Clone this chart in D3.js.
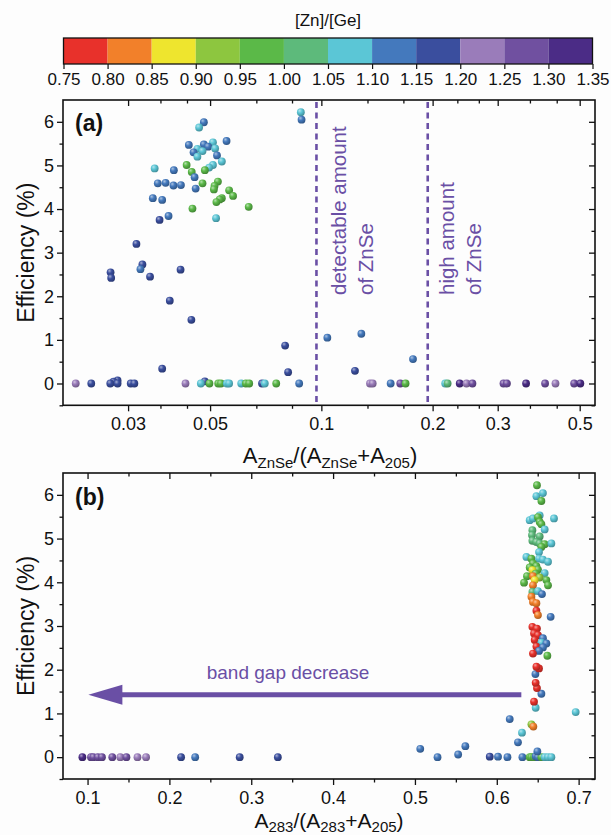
<!DOCTYPE html>
<html><head><meta charset="utf-8">
<script src="https://cdn.jsdelivr.net/npm/d3@7"></script>
<style>
body{margin:0;background:#fff;}
svg{display:block;font-family:Arial,"Liberation Sans",sans-serif;}
</style></head><body>
<svg id="chart" width="611" height="835"></svg>
<script>
// [Zn]/[Ge] colour bins
const ratioBins = [0.75,0.80,0.85,0.90,0.95,1.00,1.05,1.10,1.15,1.20,1.25,1.30,1.35];
const binColors = ["#e8312b","#f2802a","#eee52e","#8dc63f","#5bb948","#5dba7b","#5bc6d6","#4479bd","#3a4e9e","#9a7cba","#7050a0","#4b2c86"];

// Panel (a): A_ZnSe/(A_ZnSe+A_205), efficiency, [Zn]/[Ge]
const aX = [0.0481,0.0467,0.0438,0.0481,0.0509,0.0554,0.0494,0.0462,0.0477,0.0516,0.0451,0.0462,0.0522,0.0538,0.0509,0.0497,
  0.0432,0.0354,0.0399,0.0446,0.0484,0.0454,0.0361,0.0379,0.0398,0.0417,0.0477,0.0525,0.0514,0.0457,0.0512,0.0563,0.0577,
  0.0538,0.0531,0.0520,0.0350,0.0371,0.0448,0.0636,0.0519,0.0386,0.0365,0.0316,0.0328,0.0324,0.0416,0.0269,0.0270,0.0344,
  0.0389,0.0445,0.0880,0.0884,0.1038,0.1283,0.177,0.0798,0.0813,0.1233,0.0371,0.0281,0.0274,0.0484,
  0.02165,0.02385,0.02685,0.0281,0.0305,0.0312,0.0429,0.0472,0.0498,0.0526,0.0535,0.0555,0.0563,0.0607,0.0625,0.0638,
  0.0691,0.0703,0.0755,0.0871,0.1354,0.1377,0.154,0.1635,0.169,0.2163,0.2196,0.2368,0.247,0.2563,0.311,0.3177,0.358,
  0.403,0.43,0.483,0.502];
const aY = [5.99,5.87,5.47,5.48,5.53,5.56,5.43,5.38,5.33,5.39,5.30,5.20,5.23,5.09,5.01,4.95,
  5.01,4.93,4.89,4.85,4.89,4.73,4.59,4.60,4.54,4.55,4.59,4.63,4.53,4.47,4.45,4.43,4.30,
  4.25,4.22,4.16,4.25,4.21,4.01,4.05,3.79,3.84,3.75,3.20,2.73,2.62,2.61,2.55,2.42,2.45,
  1.90,1.46,6.22,6.05,1.05,1.14,0.56,0.87,0.26,0.29,0.34,0.07,0.04,0.05,
  0,0,0,0,0,0,0,0,0,0,0,0,0,0,0,0,
  0,0,0,0,0,0,0,0,0,0,0,0,0,0,0,0,0,
  0,0,0,0];
const aR = [1.12,1.07,1.12,1.12,1.07,1.12,1.12,1.07,1.07,1.07,1.12,1.07,1.12,1.07,1.07,1.07,
  0.97,1.07,1.12,0.97,0.97,1.12,1.12,1.12,1.12,1.12,0.97,0.97,0.97,1.12,0.97,0.97,0.97,
  0.97,0.97,0.97,1.12,1.12,0.97,0.97,1.07,1.12,1.17,1.17,1.17,1.12,1.17,1.17,1.17,1.17,
  1.17,1.17,1.07,1.12,1.12,1.12,1.12,1.17,1.17,1.17,1.17,1.17,1.17,1.17,
  1.22,1.17,1.17,1.17,1.17,1.17,1.22,1.07,0.97,0.97,0.97,1.07,1.07,1.07,0.97,0.97,
  1.17,1.07,0.97,1.12,1.22,1.22,1.12,1.27,0.97,1.07,1.02,1.32,1.22,1.27,1.27,1.27,1.32,
  1.27,1.22,1.27,1.32];

// Panel (b): A_283/(A_283+A_205), efficiency, [Zn]/[Ge]
const bX = [0.0937,0.1042,0.1071,0.1126,0.1176,0.1302,0.14,0.1475,0.161,0.1715,0.2143,0.2315,0.2859,0.3325,
  0.5065,0.5276,0.5528,0.5616,0.5914,0.6015,0.613,0.6313,0.6402,0.6423,0.6455,0.6475,0.6503,0.6545,0.6585,0.6626,0.6667,
  0.6496,0.6158,0.6259,0.6308,0.6423,0.6447,0.6475,0.6455,0.6964,0.6545,0.6491,0.6475,0.6472,0.6516,0.6484,
  0.6435,0.6491,0.6455,0.6503,0.6564,0.6463,0.6545,0.6606,0.6484,0.6564,0.6516,0.6442,0.6618,
  0.6491,0.6484,0.6564,0.6545,0.6524,0.6402,0.6442,0.6503,0.6699,0.6524,0.6545,0.6435,0.6585,0.6430,0.6524,0.6435,
  0.6484,0.6524,0.6585,0.6667,0.6545,0.6516,0.6362,0.6423,0.6516,0.6564,0.6626,0.6442,0.6484,0.6402,0.6503,0.6435,
  0.6585,0.6475,0.6369,0.6442,0.6524,0.6606,0.6463,0.6333,0.6626,0.6442,0.6435,0.6503,0.6552,0.6423,0.6442,0.6484,
  0.6484,0.6503,0.6658];
const bY = [0,0,0,0,0,0,0,0,0,0,0,0,0,0,
  0.19,0,0.06,0.25,0.01,0.01,0,0,0,0,0,0.02,0,0,0,0,0,
  0.13,0.87,0.34,0.56,0.75,0.70,1.13,1.27,1.03,1.45,1.58,1.70,1.90,2.03,2.07,
  2.98,2.94,2.83,2.79,2.72,2.68,2.62,2.60,2.53,2.51,2.43,2.37,2.32,
  6.22,5.97,6.04,5.86,5.53,5.42,5.46,5.49,5.46,5.38,5.33,5.19,5.21,5.08,5.05,4.95,
  4.92,4.89,4.87,4.89,4.81,4.69,4.58,4.54,4.54,4.52,4.47,4.43,4.37,4.34,4.29,4.28,
  4.21,4.20,4.14,4.14,4.11,4.05,4.05,3.99,3.93,3.93,3.78,3.80,3.73,3.67,3.55,3.52,
  3.35,3.25,3.21];
const bR = [1.32,1.27,1.27,1.27,1.27,1.27,1.22,1.27,1.22,1.22,1.17,1.12,1.17,1.17,
  1.12,1.12,1.12,1.12,1.17,1.12,1.12,1.12,0.97,0.97,0.97,1.12,1.12,0.97,1.07,1.07,1.07,
  1.12,1.12,1.12,1.07,0.92,0.82,1.07,0.77,1.07,1.12,0.77,0.77,1.12,0.77,0.77,
  0.77,0.77,0.77,0.77,1.12,0.77,1.07,1.12,0.77,1.12,1.12,0.77,0.97,
  0.97,1.07,1.07,0.97,1.07,1.07,1.07,0.97,1.07,0.97,0.97,1.02,1.07,1.02,1.02,1.02,
  1.02,1.02,0.97,1.07,0.97,1.07,1.07,0.97,1.07,1.07,1.07,0.97,0.97,0.97,0.97,0.87,
  1.07,0.97,0.97,0.82,0.92,0.97,0.87,0.97,0.97,0.82,1.02,1.07,1.12,0.82,0.82,0.82,
  0.77,0.82,1.12];

// Axis ticks
const effTicks = [0,1,2,3,4,5,6];
const effMinor = [-0.5,0.5,1.5,2.5,3.5,4.5,5.5];
const aXTicks = [0.03,0.05,0.1,0.2,0.3,0.5];
const aXMinor = [0.0367,0.0433,0.0667,0.0833,0.1333,0.1667,0.2333,0.2667,0.3667,0.4333];
const bXTicks = [0.1,0.2,0.3,0.4,0.5,0.6,0.7];
const bXMinor = [0.15,0.25,0.35,0.45,0.55,0.65];
const zoneLines = [0.097,0.194];
// band-gap arrow: from tail to tip along the A283 axis, at this efficiency level
const arrowFrom = 0.63, arrowTo = 0.101, arrowLevel = 1.43;

const svg = d3.select("#chart");
const W = 611, H = 835;
svg.append("rect").attr("width",W).attr("height",H).attr("fill","#fdfdfd");

const color = d3.scaleThreshold().domain(ratioBins.slice(1,-1)).range(binColors);

// sphere shading gradients
const defs = svg.append("defs");
binColors.forEach((c,i)=>{
  const g = defs.append("radialGradient").attr("id","ball"+i)
    .attr("cx","38%").attr("cy","35%").attr("r","65%").attr("fx","35%").attr("fy","30%");
  g.append("stop").attr("offset","0%").attr("stop-color",d3.interpolateRgb(c,"#ffffff")(0.55));
  g.append("stop").attr("offset","45%").attr("stop-color",c);
  g.append("stop").attr("offset","100%").attr("stop-color",d3.color(c).darker(0.9));
});
const ballFill = r => "url(#ball"+binColors.indexOf(color(r))+")";

const L = 63, R = 595;
const purple = "#6a4fa5";

// ---------- colour bar ----------
const cbTop = 38, cbH = 26;
const cbX = d3.scaleLinear().domain([0.75,1.35]).range([63.5,592.5]);
const cb = svg.append("g");
cb.selectAll("rect.bin").data(binColors).join("rect").attr("class","bin")
  .attr("x",(d,i)=>cbX(ratioBins[i])).attr("y",cbTop)
  .attr("width",(d,i)=>cbX(ratioBins[i+1])-cbX(ratioBins[i])).attr("height",cbH)
  .attr("fill",d=>d);
cb.append("rect").attr("x",cbX(0.75)).attr("y",cbTop).attr("width",cbX(1.35)-cbX(0.75)).attr("height",cbH)
  .attr("fill","none").attr("stroke","#111").attr("stroke-width",1.3);
const cbAxis = cb.append("g").attr("transform",`translate(0,${cbTop+cbH})`)
  .call(d3.axisBottom(cbX).tickValues(ratioBins).tickSize(5).tickPadding(4).tickFormat(d3.format(".2f")));
cbAxis.select(".domain").remove();
cbAxis.selectAll("line").attr("stroke","#111").attr("stroke-width",1.2);
cbAxis.selectAll("text").attr("font-size",17).attr("fill","#111").attr("font-family","Arial,'Liberation Sans',sans-serif");
cb.append("text").attr("x",cbX(1.05)).attr("y",26).attr("text-anchor","middle")
  .attr("font-size",17).attr("fill","#111").text("[Zn]/[Ge]");

// ---------- panel helper ----------
function panel(top, bottom, x, xTicks, xMinor, xFmt) {
  const y = d3.scaleLinear().domain([-0.5,6.5]).range([bottom,top]);
  const g = svg.append("g");
  const style = sel => {
    sel.select(".domain").remove();
    sel.selectAll("line").attr("stroke","#111").attr("stroke-width",1.3);
    sel.selectAll("text").attr("font-size",18).attr("fill","#111").attr("font-family","Arial,'Liberation Sans',sans-serif");
  };
  g.append("g").attr("transform",`translate(${L},0)`)
    .call(d3.axisLeft(y).tickValues(effTicks).tickSize(6).tickPadding(3).tickFormat(d3.format("d"))).call(style);
  g.append("g").attr("transform",`translate(${L},0)`)
    .call(d3.axisLeft(y).tickValues(effMinor).tickSize(3.5).tickFormat("")).call(style);
  g.append("g").attr("transform",`translate(${R},0)`)
    .call(d3.axisRight(y).tickValues(effTicks).tickSize(-6).tickFormat("")).call(style);
  g.append("g").attr("transform",`translate(${R},0)`)
    .call(d3.axisRight(y).tickValues(effMinor).tickSize(-3.5).tickFormat("")).call(style);
  g.append("g").attr("transform",`translate(0,${bottom})`)
    .call(d3.axisBottom(x).tickValues(xTicks).tickSize(6).tickPadding(6).tickFormat(xFmt)).call(style);
  g.append("g").attr("transform",`translate(0,${bottom})`)
    .call(d3.axisBottom(x).tickValues(xMinor).tickSize(3.5).tickFormat("")).call(style);
  g.append("g").attr("transform",`translate(0,${top})`)
    .call(d3.axisTop(x).tickValues(xTicks).tickSize(-6).tickFormat("")).call(style);
  g.append("g").attr("transform",`translate(0,${top})`)
    .call(d3.axisTop(x).tickValues(xMinor).tickSize(-3.5).tickFormat("")).call(style);
  g.append("rect").attr("x",L).attr("y",top).attr("width",R-L).attr("height",bottom-top)
    .attr("fill","none").attr("stroke","#111").attr("stroke-width",1.6);
  // y title
  g.append("text").attr("transform",`translate(34,${(top+bottom)/2}) rotate(-90)`)
    .attr("text-anchor","middle").attr("font-size",23).attr("fill","#111").text("Efficiency (%)");
  return y;
}

function balls(xs, ys, rs, x, y) {
  const pts = xs.map((v,i)=>({x:v,y:ys[i],r:rs[i]}));
  svg.append("g").selectAll("circle").data(pts).join("circle")
    .attr("cx",d=>x(d.x)).attr("cy",d=>y(d.y)).attr("r",3.9)
    .attr("fill",d=>ballFill(d.r));
}

// ---------- panel (a) ----------
const aTop = 100, aBottom = 405.3;
const xa = d3.scaleLog().domain([0.02,0.55]).range([L,R]);
const ya = panel(aTop, aBottom, xa, aXTicks, aXMinor, d=>String(d));

svg.append("g").selectAll("line").data(zoneLines).join("line")
  .attr("x1",d=>xa(d)).attr("x2",d=>xa(d)).attr("y1",aTop+2).attr("y2",aBottom-2)
  .attr("stroke",purple).attr("stroke-width",2.6).attr("stroke-dasharray","6,4.5");

const noteA = svg.append("g").attr("fill",purple).attr("font-size",20.5);
[["detectable amount",346],["of ZnSe",373],["high amount",454],["of ZnSe",481]].forEach(([t,xx])=>{
  noteA.append("text").attr("transform",`translate(${xx},295) rotate(-90)`).text(t);
});

balls(aX, aY, aR, xa, ya);

svg.append("text").attr("x",75).attr("y",131).attr("font-size",23).attr("font-weight","bold")
  .attr("fill","#111").text("(a)");

const ta = svg.append("text").attr("x",330).attr("y",463).attr("text-anchor","middle")
  .attr("font-size",22).attr("fill","#111");
ta.append("tspan").text("A");
ta.append("tspan").attr("dy",5).attr("font-size",15).text("ZnSe");
ta.append("tspan").attr("dy",-5).text("/(A");
ta.append("tspan").attr("dy",5).attr("font-size",15).text("ZnSe");
ta.append("tspan").attr("dy",-5).text("+A");
ta.append("tspan").attr("dy",5).attr("font-size",15).text("205");
ta.append("tspan").attr("dy",-5).text(")");

// ---------- panel (b) ----------
const bTop = 473, bBottom = 779;
const xb = d3.scaleLinear().domain([0.07,0.72]).range([L,R]);
const yb = panel(bTop, bBottom, xb, bXTicks, bXMinor, d3.format(".1f"));

// band gap arrow
const arrowY = yb(arrowLevel), tipX = xb(arrowTo), headLen = 34;
const arrow = svg.append("g");
arrow.append("line").attr("x1",xb(arrowFrom)).attr("x2",tipX+headLen-2).attr("y1",arrowY).attr("y2",arrowY)
  .attr("stroke",purple).attr("stroke-width",5);
arrow.append("path")
  .attr("d",`M${tipX},${arrowY} L${tipX+headLen},${arrowY-10} L${tipX+headLen},${arrowY+10} Z`).attr("fill",purple);
svg.append("text").attr("x",xb(0.345)).attr("y",arrowY-16).attr("text-anchor","middle")
  .attr("font-size",19).attr("fill",purple).text("band gap decrease");

balls(bX, bY, bR, xb, yb);

svg.append("text").attr("x",75).attr("y",505).attr("font-size",23).attr("font-weight","bold")
  .attr("fill","#111").text("(b)");

const tb = svg.append("text").attr("x",329).attr("y",828).attr("text-anchor","middle")
  .attr("font-size",21).attr("fill","#111");
tb.append("tspan").text("A");
tb.append("tspan").attr("dy",4).attr("font-size",15).text("283");
tb.append("tspan").attr("dy",-4).text("/(A");
tb.append("tspan").attr("dy",4).attr("font-size",15).text("283");
tb.append("tspan").attr("dy",-4).text("+A");
tb.append("tspan").attr("dy",4).attr("font-size",15).text("205");
tb.append("tspan").attr("dy",-4).text(")");
</script></body></html>
